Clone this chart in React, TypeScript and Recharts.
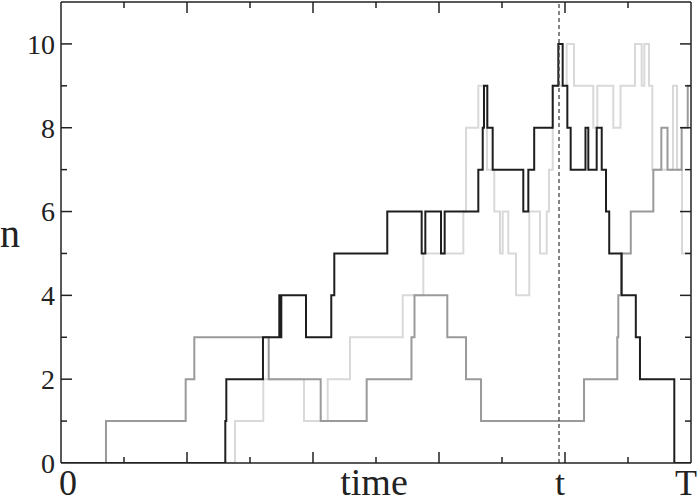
import React from "react";
import { LineChart, Line, XAxis, YAxis, ReferenceLine } from "recharts";

// time positions (0..T=10) where each trajectory jumps, and the value held after each jump
const blackT = [0, 2.608, 2.624, 3.206, 3.465, 3.481, 3.497, 3.889, 4.29, 4.338, 5.179, 5.725, 5.783, 6.032, 6.09, 6.624, 6.694, 6.714, 6.767, 6.852, 7.338, 7.418, 7.511, 7.805, 7.894, 7.963, 8.037, 8.09, 8.325, 8.37, 8.503, 8.583, 8.651, 8.702, 8.9, 9.124, 9.19, 9.735, 10];
const blackN = [0, 1, 2, 3, 4, 3, 4, 3, 4, 5, 6, 5, 6, 5, 6, 7, 8, 9, 8, 7, 6, 7, 8, 9, 10, 9, 8, 7, 8, 7, 8, 7, 6, 5, 4, 3, 2, 0, 0];

const midT = [0, 0.714, 1.979, 2.116, 3.297, 4.122, 4.852, 5.563, 5.611, 6.132, 6.429, 6.667, 8.302, 8.83, 8.846, 8.889, 9.044, 9.402, 9.529, 9.627, 9.852, 9.948, 10];
const midN = [0, 1, 2, 3, 2, 1, 2, 3, 4, 3, 2, 1, 2, 3, 4, 5, 6, 7, 8, 7, 8, 9, 9];

const lightT = [0, 2.762, 3.211, 3.857, 4.233, 4.587, 5.424, 5.751, 6.386, 6.429, 6.624, 6.762, 6.878, 6.968, 7.011, 7.1, 7.222, 7.433, 7.603, 7.71, 7.746, 7.805, 8.027, 8.143, 8.449, 8.513, 8.767, 8.881, 9.111, 9.217, 9.259, 9.333, 9.386, 9.714, 9.778, 9.857, 10];
const lightN = [0, 1, 2, 1, 2, 3, 4, 5, 6, 8, 9, 7, 6, 5, 6, 5, 4, 6, 5, 6, 7, 9, 10, 9, 8, 9, 8, 9, 10, 9, 10, 9, 7, 9, 7, 5, 5];

const tMark = 7.905;
const xMax = 10;
const yMax = 11;
const xTicks = [0, 1, 2, 3, 4, 5, 6, 7, 8, 9, 10];
const yTicks = [0, 1, 2, 3, 4, 5, 6, 7, 8, 9, 10];
const yLabelled = [0, 2, 4, 6, 8, 10];
const xTickLabels = [
  { at: 0, text: "0" },
  { at: tMark, text: "t" },
  { at: 10, text: "T" },
];
const xTitle = "time";
const yTitle = "n";

const toPoints = (ts: number[], ns: number[]) => ts.map((x, i) => ({ x, n: ns[i] }));
const blackData = toPoints(blackT, blackN);
const midData = toPoints(midT, midN);
const lightData = toPoints(lightT, lightN);

// layout
const CHART_W = 700;
const CHART_H = 503;
const M_TOP = 2;
const M_RIGHT = 9;
const Y_AXIS_W = 61;
const X_AXIS_H = 40;
const PLOT_LEFT = Y_AXIS_W;
const PLOT_RIGHT = CHART_W - M_RIGHT;
const PLOT_TOP = M_TOP;

const INK = "#222";
const FONT = '"Liberation Serif", "Times New Roman", serif';
const MAJOR = 11;
const MINOR = 6;
const SW = 1.5;

const isMajorX = (v: number) => v % 2 === 0;

// bottom axis tick: inward tick mark, mirrored tick on the top edge, frame edges, labels
function BottomTick(props: any) {
  const { x, y, payload } = props;
  const v = payload.value;
  const isInt = Number.isInteger(v);
  const lab = xTickLabels.find((l) => Math.abs(l.at - v) < 1e-9);
  const len = isMajorX(v) ? MAJOR : MINOR;
  let dx = 1;
  if (lab && v === 0) dx = 7;
  if (lab && v === xMax) dx = -5;
  return (
    <g>
      {isInt && v > 0 && v < xMax && (
        <g>
          <line x1={x} y1={y} x2={x} y2={y - len} stroke={INK} strokeWidth={SW} />
          <line x1={x} y1={PLOT_TOP} x2={x} y2={PLOT_TOP + len} stroke={INK} strokeWidth={SW} />
        </g>
      )}
      {v === 0 && (
        <line x1={PLOT_LEFT} y1={PLOT_TOP} x2={PLOT_RIGHT} y2={PLOT_TOP} stroke={INK} strokeWidth={SW} />
      )}
      {v === xMax && <line x1={x} y1={y} x2={x} y2={PLOT_TOP} stroke={INK} strokeWidth={SW} />}
      {lab && (
        <text x={x + dx} y={y + 32} textAnchor="middle" fontFamily={FONT} fontSize={36} fill={INK}>
          {lab.text}
        </text>
      )}
    </g>
  );
}

// left axis tick: inward tick mark, mirrored tick on the right edge, label
function LeftTick(props: any) {
  const { x, y, payload } = props;
  const v = payload.value;
  const major = yLabelled.includes(v);
  const len = major ? MAJOR : MINOR;
  return (
    <g>
      {v > 0 && (
        <g>
          <line x1={x} y1={y} x2={x + len} y2={y} stroke={INK} strokeWidth={SW} />
          <line x1={PLOT_RIGHT} y1={y} x2={PLOT_RIGHT - len} y2={y} stroke={INK} strokeWidth={SW} />
        </g>
      )}
      {major && (
        <text x={x - 6} y={y} dy="0.35em" textAnchor="end" fontFamily={FONT} fontSize={28} fill={INK}>
          {String(v)}
        </text>
      )}
    </g>
  );
}

export default function App() {
  const axisLine = { stroke: INK, strokeWidth: SW };
  return (
    <div style={{ position: "absolute", left: 0, top: 0, width: CHART_W, height: CHART_H, background: "#fff" }}>
      <LineChart width={CHART_W} height={CHART_H} margin={{ top: M_TOP, right: M_RIGHT, left: 0, bottom: 0 }}>
        <XAxis
          xAxisId="b"
          type="number"
          dataKey="x"
          domain={[0, xMax]}
          allowDataOverflow
          ticks={[...xTicks, tMark]}
          interval={0}
          height={X_AXIS_H}
          tickSize={0}
          tickMargin={0}
          tickLine={false}
          axisLine={axisLine}
          tick={<BottomTick />}
          label={{
            value: xTitle,
            position: "insideBottom",
            offset: 8,
            dx: -2,
            fontSize: 38,
            fontFamily: FONT,
            fill: INK,
          }}
        />
        <YAxis
          yAxisId="l"
          type="number"
          dataKey="n"
          domain={[0, yMax]}
          allowDataOverflow
          ticks={yTicks}
          interval={0}
          width={Y_AXIS_W}
          tickSize={0}
          tickMargin={0}
          tickLine={false}
          axisLine={axisLine}
          tick={<LeftTick />}
          label={{
            value: yTitle,
            position: "insideLeft",
            offset: 0,
            fontSize: 40,
            fontFamily: FONT,
            fill: INK,
          }}
        />
        <Line
          xAxisId="b"
          yAxisId="l"
          data={lightData}
          dataKey="n"
          type="stepAfter"
          stroke="#d9d9d9"
          strokeWidth={2}
          dot={false}
          isAnimationActive={false}
        />
        <Line
          xAxisId="b"
          yAxisId="l"
          data={midData}
          dataKey="n"
          type="stepAfter"
          stroke="#9a9a9a"
          strokeWidth={2}
          dot={false}
          isAnimationActive={false}
        />
        <Line
          xAxisId="b"
          yAxisId="l"
          data={blackData}
          dataKey="n"
          type="stepAfter"
          stroke="#1e1e1e"
          strokeWidth={2}
          dot={false}
          isAnimationActive={false}
        />
        <ReferenceLine
          xAxisId="b"
          yAxisId="l"
          x={tMark}
          stroke="#444"
          strokeWidth={1.3}
          strokeDasharray="4 3"
        />
      </LineChart>
    </div>
  );
}
